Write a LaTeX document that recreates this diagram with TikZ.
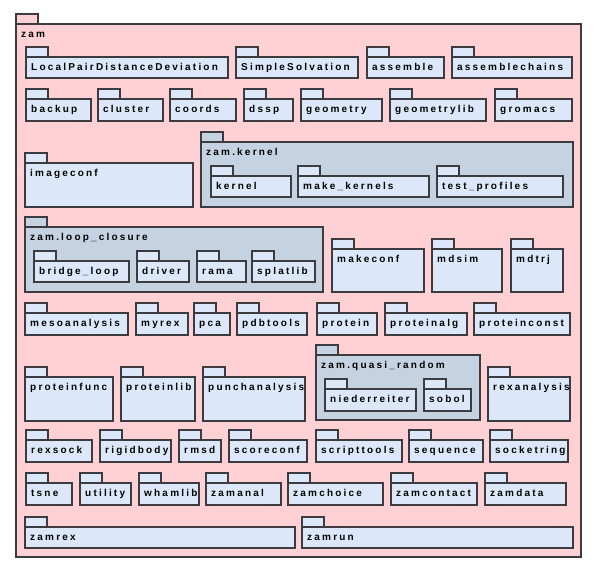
\documentclass[tikz,border=0pt]{standalone}
\usepackage{fontspec}
\usepackage{tikz}
\newfontfamily\pkgfont[LetterSpace=22]{Liberation Sans}
\definecolor{cZam}{RGB}{255,208,212}
\definecolor{cPkg}{RGB}{220,232,250}
\definecolor{cSub}{RGB}{197,210,226}
\definecolor{cLine}{RGB}{60,60,64}
% package with its tab: [style]{name}{x1}{y1}{x2}{y2}{text}
\newcommand{\pack}[7][pkg]{%
  \draw[#1tab] (#3,#4-10) rectangle (#3+22,#4);
  \node[#1, minimum width=#5-#3, minimum height=#6-#4,
    label={[pkgtext]north west:#7}] (#2) at (#3,#4) {};
}

\begin{document}
\begin{tikzpicture}[
  x=1pt, y=-1pt,
  pkg/.style={rectangle, draw=cLine, line width=1.4pt, fill=cPkg,
    anchor=north west, inner sep=0pt, outer sep=0pt},
  sub/.style={pkg, fill=cSub},
  zam/.style={pkg, fill=cZam},
  pkgtab/.style={draw=cLine, line width=1.4pt, fill=cPkg},
  subtab/.style={pkgtab, fill=cSub},
  zamtab/.style={pkgtab, fill=cZam},
  pkgtext/.style={anchor=north west, inner sep=0pt, xshift=5pt, yshift=-5.5pt,
    text height=7.5pt, text depth=2pt, text=black,
    font=\pkgfont\bfseries\fontsize{10}{12}\selectfont},
]
\useasboundingbox (0,0) rectangle (597,568);
\pack[zam]{zam}{16}{24}{581}{557}{zam}
% row 1
\pack{lpdd}{26}{57}{228}{78}{LocalPairDistanceDeviation}
\pack{simplesolv}{236}{57}{358}{78}{SimpleSolvation}
\pack{assemble}{367}{57}{444}{78}{assemble}
\pack{assemblech}{452}{57}{572}{78}{assemblechains}
% row 2
\pack{backup}{26}{99}{91}{121}{backup}
\pack{cluster}{98}{99}{163}{121}{cluster}
\pack{coords}{170}{99}{236}{121}{coords}
\pack{dssp}{244}{99}{293}{121}{dssp}
\pack{geometry}{301}{99}{382}{121}{geometry}
\pack{geometrylib}{390}{99}{486}{121}{geometrylib}
\pack{gromacs}{495}{99}{572}{121}{gromacs}
% row 3
\pack{imageconf}{25}{163}{193}{207}{imageconf}
\pack[sub]{zkernel}{201}{142}{573}{207}{zam.kernel}
\pack{kernel}{211}{176}{291}{197}{kernel}
\pack{makekernels}{298}{176}{429}{197}{make\_kernels}
\pack{testprofiles}{437}{176}{563}{197}{test\_profiles}
% row 4
\pack[sub]{zloop}{25}{227}{323}{292}{zam.loop\_closure}
\pack{bridgeloop}{34}{261}{129}{282}{bridge\_loop}
\pack{driver}{137}{261}{189}{282}{driver}
\pack{rama}{197}{261}{246}{282}{rama}
\pack{splatlib}{252}{261}{315}{282}{splatlib}
\pack{makeconf}{332}{249}{424}{292}{makeconf}
\pack{mdsim}{432}{249}{502}{292}{mdsim}
\pack{mdtrj}{511}{249}{563}{292}{mdtrj}
% row 5
\pack{meso}{25}{313}{128}{335}{mesoanalysis}
\pack{myrex}{136}{313}{188}{335}{myrex}
\pack{pca}{194}{313}{230}{335}{pca}
\pack{pdbtools}{237}{313}{307}{335}{pdbtools}
\pack{protein}{317}{313}{377}{335}{protein}
\pack{proteinalg}{385}{313}{467}{335}{proteinalg}
\pack{proteinconst}{474}{313}{570}{335}{proteinconst}
% row 6
\pack{proteinfunc}{25}{377}{113}{421}{proteinfunc}
\pack{proteinlib}{121}{377}{195}{421}{proteinlib}
\pack{punch}{203}{377}{305}{421}{punchanalysis}
\pack[sub]{zquasi}{316}{355}{480}{420}{zam.quasi\_random}
\pack{nieder}{325}{389}{416}{411}{niederreiter}
\pack{sobol}{424}{389}{471}{411}{sobol}
\pack{rexanalysis}{488}{377}{570}{421}{rexanalysis}
% row 7
\pack{rexsock}{26}{440}{92}{462}{rexsock}
\pack{rigidbody}{100}{440}{171}{462}{rigidbody}
\pack{rmsd}{179}{440}{221}{462}{rmsd}
\pack{scoreconf}{229}{440}{307}{462}{scoreconf}
\pack{scripttools}{316}{440}{402}{462}{scripttools}
\pack{sequence}{409}{440}{483}{462}{sequence}
\pack{socketring}{490}{440}{568}{462}{socketring}
% row 8
\pack{tsne}{26}{483}{72}{505}{tsne}
\pack{utility}{80}{483}{131}{505}{utility}
\pack{whamlib}{139}{483}{199}{505}{whamlib}
\pack{zamanal}{206}{483}{281}{505}{zamanal}
\pack{zamchoice}{288}{483}{383}{505}{zamchoice}
\pack{zamcontact}{391}{483}{477}{505}{zamcontact}
\pack{zamdata}{485}{483}{566}{505}{zamdata}
% row 9
\pack{zamrex}{25}{527}{295}{548}{zamrex}
\pack{zamrun}{302}{527}{573}{548}{zamrun}
\end{tikzpicture}
\end{document}
